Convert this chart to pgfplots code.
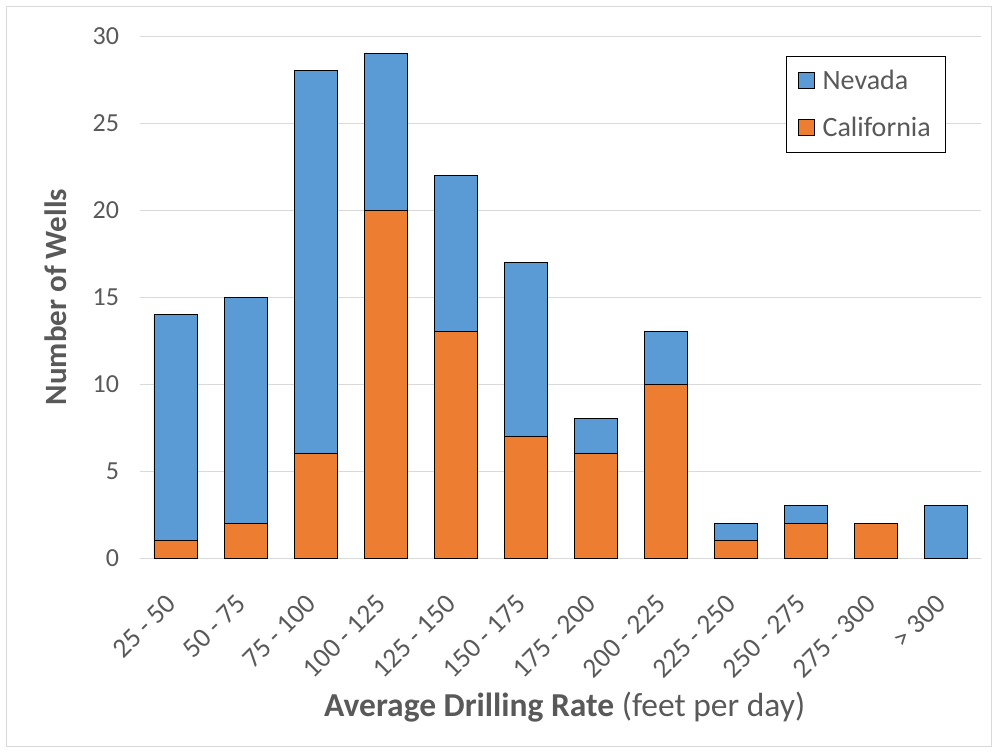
\documentclass[border=0pt]{standalone}
\usepackage{fontspec}
\setmainfont{Carlito}
\usepackage{pgfplots}
\pgfplotsset{compat=1.18}
\definecolor{nevada}{HTML}{5B9BD5}
\definecolor{california}{HTML}{ED7D31}
\definecolor{txtgray}{HTML}{595959}
\definecolor{gridgray}{HTML}{D9D9D9}
\begin{document}
\begin{tikzpicture}
\begin{axis}[
  at={(0pt,0pt)}, anchor=south west,
  scale only axis,
  width=840pt, height=522pt,
  ybar stacked,
  bar width=43pt,
  xmin=-0.5, xmax=11.5,
  ymin=0, ymax=30,
  ytick={0,5,...,30},
  xtick={0,...,11},
  xticklabels={25 - 50,50 - 75,75 - 100,100 - 125,125 - 150,150 - 175,175 - 200,200 - 225,225 - 250,250 - 275,275 - 300,> 300},
  major tick length=0pt,
  axis line style={draw=none},
  ymajorgrids,
  grid style={gridgray, line width=0.9pt},
  /pgf/number format/assume math mode=true,
  tick label style={font=\fontsize{26}{30}\selectfont, text=txtgray},
  yticklabel style={anchor=east, xshift=-18pt},
  xticklabel style={font=\fontsize{27.5}{32}\selectfont, rotate=45, anchor=north east, inner sep=0pt, xshift=-32pt, yshift=-17pt},
  xlabel={\textbf{Average Drilling Rate} (feet per day)},
  ylabel={\textbf{Number of Wells}},
  label style={text=txtgray},
  xlabel style={font=\fontsize{33.5}{38}\selectfont, at={(axis description cs:0.505,-0.285)}, anchor=center},
  ylabel style={font=\fontsize{31}{36}\selectfont, at={(axis description cs:-0.1006,0.5)}, anchor=center},
  reverse legend,
  legend cell align=left,
  legend style={at={(0.768,0.962)}, anchor=north west, draw=black, fill=white,
    font=\fontsize{28}{32}\selectfont, text=txtgray,
    inner xsep=12pt, inner ysep=12pt, row sep=22pt},
  legend image code/.code={\draw[#1, draw=black, line width=0.8pt] (0pt,-8pt) rectangle (16pt,8pt); \path (22pt,0pt);},
]
\addplot[fill=california, draw=black, line width=0.8pt] coordinates {
  (0,1) (1,2) (2,6) (3,20) (4,13) (5,7) (6,6) (7,10) (8,1) (9,2) (10,2) (11,0)
};
\addplot[fill=nevada, draw=black, line width=0.8pt] coordinates {
  (0,13) (1,13) (2,22) (3,9) (4,9) (5,10) (6,2) (7,3) (8,1) (9,1) (10,0) (11,3)
};
\legend{California,Nevada}
\end{axis}
\draw[gridgray, line width=1pt] (-133.5pt,-188pt) rectangle (850.5pt,551pt);
\useasboundingbox (-140.5pt,-195pt) rectangle (857.5pt,558pt);
\end{tikzpicture}
\end{document}
